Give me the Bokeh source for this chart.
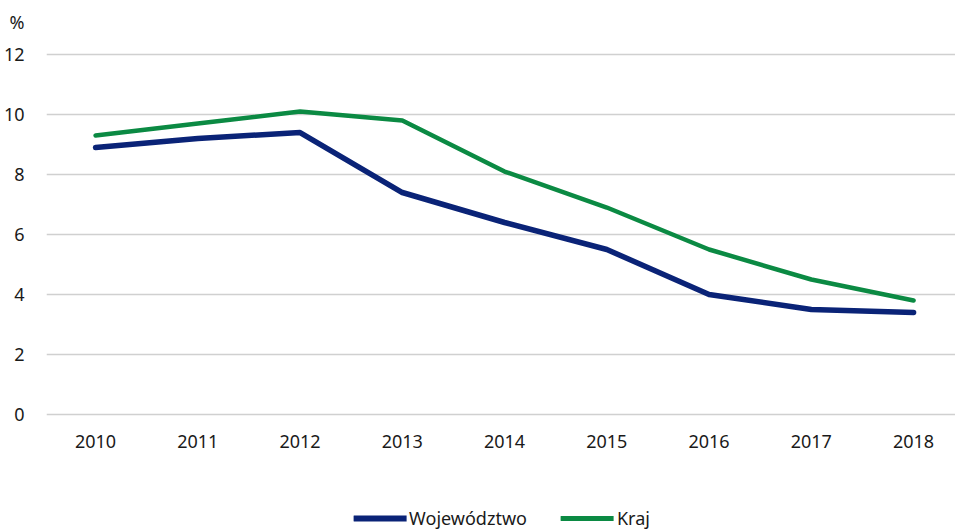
from bokeh.plotting import figure
from bokeh.layouts import column
from bokeh.models import Range1d, FixedTicker, Legend, LegendItem, Title
from bokeh.embed import file_html
from bokeh.resources import INLINE

years = [2010, 2011, 2012, 2013, 2014, 2015, 2016, 2017, 2018]
wojewodztwo = [8.9, 9.2, 9.4, 7.4, 6.4, 5.5, 4.0, 3.5, 3.4]
kraj = [9.3, 9.7, 10.1, 9.8, 8.1, 6.9, 5.5, 4.5, 3.8]
y_ticks = [0, 2, 4, 6, 8, 10, 12]
series_names = ["Województwo", "Kraj"]

FONT = "Noto Sans"
NAVY = "#0a2377"
GREEN = "#0b8a43"
FS = "18px"

p = figure(frame_width=909, frame_height=377, output_backend="svg", toolbar_location=None,
           x_range=Range1d(2009.52, 2018.41), y_range=Range1d(-0.1, 12.467),
           min_border_left=40, min_border_right=0, min_border_top=0, min_border_bottom=50)
p.outline_line_color = None
p.background_fill_color = "white"
p.border_fill_color = "white"

t = Title(text="%", align="left", offset=-37, standoff=14, text_font=FONT, text_font_size=FS,
          text_font_style="normal", text_color="#1a1a1a")
p.add_layout(t, "above")

p.xgrid.grid_line_color = None
p.ygrid.grid_line_color = "#d0d0d0"
p.ygrid.grid_line_width = 1.5
p.ygrid.ticker = FixedTicker(ticks=y_ticks)

p.yaxis.ticker = FixedTicker(ticks=y_ticks)
p.xaxis.ticker = FixedTicker(ticks=years)
for ax in (p.xaxis, p.yaxis):
    ax.axis_line_color = None
    ax.major_tick_line_color = None
    ax.minor_tick_line_color = None
    ax.major_tick_out = 0
    ax.major_tick_in = 0
    ax.major_label_text_font = FONT
    ax.major_label_text_font_size = FS
    ax.major_label_text_color = "#1a1a1a"
p.yaxis.major_label_standoff = 22
p.xaxis.major_label_standoff = 17

p.line(years, wojewodztwo, line_color=NAVY, line_width=5.5, line_cap="round", line_join="round")
p.line(years, kraj, line_color=GREEN, line_width=4.5, line_cap="round", line_join="round")

# legend strip below the chart
nan = float("nan")
q = figure(width=957, height=65, output_backend="svg", toolbar_location=None,
           x_range=Range1d(0, 1), y_range=Range1d(0, 1),
           min_border_left=0, min_border_right=0, min_border_top=0, min_border_bottom=0)
q.axis.visible = False
q.grid.visible = False
q.outline_line_color = None
l1 = q.line([nan, nan], [nan, nan], line_color=NAVY, line_width=6, line_cap="round")
l2 = q.line([nan, nan], [nan, nan], line_color=GREEN, line_width=5, line_cap="round")

legend = Legend(items=[LegendItem(label=series_names[0], renderers=[l1]),
                       LegendItem(label=series_names[1], renderers=[l2])],
                orientation="horizontal", location="bottom_center",
                label_text_font=FONT, label_text_font_size=FS, label_text_color="#1a1a1a",
                glyph_width=53, glyph_height=20, label_height=20, label_standoff=3, spacing=34,
                border_line_color=None, background_fill_alpha=0, margin=2, padding=0)
q.add_layout(legend)

layout = column(p, q, spacing=0)
open("out.html", "w").write(file_html(layout, INLINE))
